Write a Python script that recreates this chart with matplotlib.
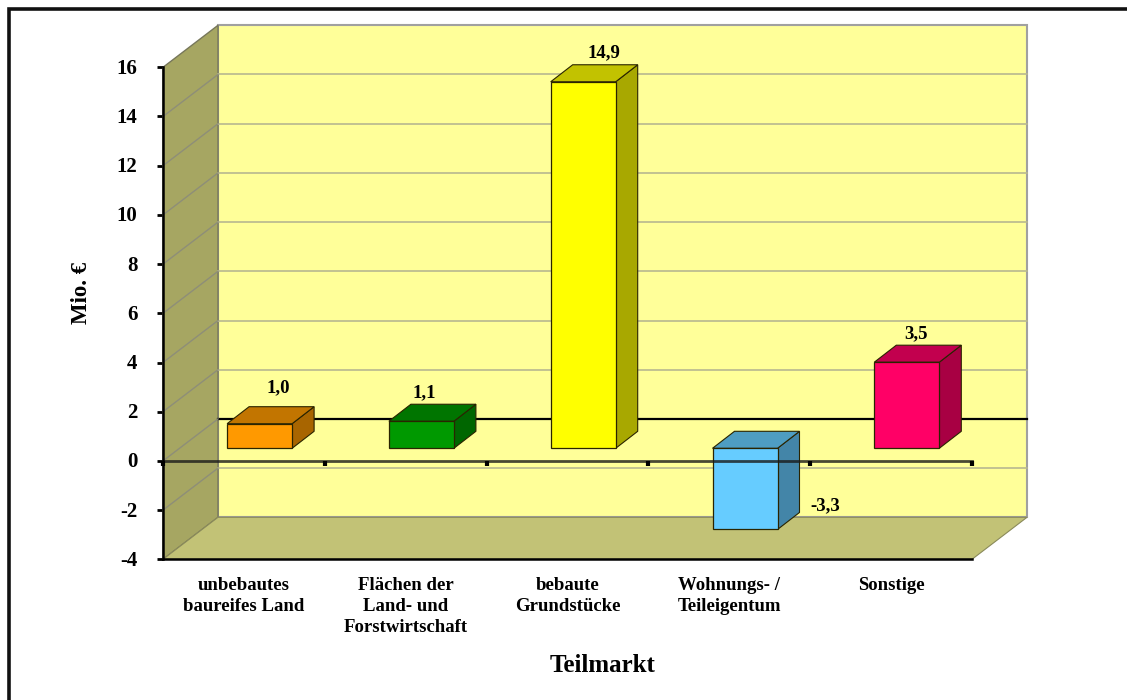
import matplotlib
matplotlib.use("Agg")
import matplotlib.pyplot as plt
from matplotlib.patches import Rectangle
from matplotlib.transforms import ScaledTranslation

plt.rcParams['font.family'] = ['Liberation Serif', 'DejaVu Serif']
plt.rcParams['font.weight'] = 'bold'

categories = ["unbebautes\nbaureifes Land", "Flächen der\nLand- und\nForstwirtschaft",
              "bebaute\nGrundstücke", "Wohnungs- /\nTeileigentum", "Sonstige"]
values = [1.0, 1.1, 14.9, -3.3, 3.5]
value_labels = ["1,0", "1,1", "14,9", "-3,3", "3,5"]
y_ticks = [-4, -2, 0, 2, 4, 6, 8, 10, 12, 14, 16]

front_colors = ["#FF9900", "#009900", "#FFFF00", "#66CCFF", "#FF0066"]
side_colors = ["#A86500", "#006600", "#A8A800", "#4385A8", "#A80043"]
top_colors = ["#C27500", "#007500", "#C2C200", "#4E9DC2", "#C2004E"]

W, H = 1127, 700
fig = plt.figure(figsize=(W / 100, H / 100), dpi=100, facecolor="white")
ax = fig.add_axes([163 / W, (H - 559.3) / H, 809 / W, 492 / H])
ax.patch.set_visible(False)

# pixels per unit on the front plane
px_x = 809 / 5
px_y = 492 / 20

# depth of the box and of the bars
wall_dx = 55 / px_x
wall_dy = 42 / px_y
bar_w = 65 / px_x
bar_dx = 22 / px_x
bar_dy = 17 / px_y
off_x = 15.7 / px_x
off_y = 12.6 / px_y

x_end = len(values)
y_lo, y_hi = y_ticks[0], y_ticks[-1]

# back wall, left wall, floor
ax.fill([wall_dx, x_end + wall_dx, x_end + wall_dx, wall_dx],
        [y_lo + wall_dy, y_lo + wall_dy, y_hi + wall_dy, y_hi + wall_dy],
        facecolor="#FFFF99", edgecolor="#A0A0A0", lw=1.5, clip_on=False, zorder=1)
ax.fill([0, wall_dx, wall_dx, 0],
        [y_lo, y_lo + wall_dy, y_hi + wall_dy, y_hi],
        facecolor="#A6A662", edgecolor="#77775A", lw=1, clip_on=False, zorder=2)
ax.fill([0, wall_dx, x_end + wall_dx, x_end],
        [y_lo, y_lo + wall_dy, y_lo + wall_dy, y_lo],
        facecolor="#C2C276", edgecolor="#8A8A5A", lw=0.8, clip_on=False, zorder=2)

for t in y_ticks[1:-1]:
    col = "black" if t == 0 else "#B8B890"
    lw = 1.6 if t == 0 else 1.2
    ax.plot([wall_dx, x_end + wall_dx], [t + wall_dy, t + wall_dy], color=col, lw=lw,
            clip_on=False, zorder=3)
    ax.plot([0, wall_dx], [t, t + wall_dy], color="#8E8E78", lw=1, clip_on=False, zorder=3)

# bars, front face first through ax.bar then the two receding faces
edge = "#2A2400"
for i, v in enumerate(values):
    left = i + 0.5 + off_x - bar_w / 2
    right = left + bar_w
    base = off_y
    top = v + off_y
    hi = max(base, top)
    lo = min(base, top)
    ax.fill([right, right + bar_dx, right + bar_dx, right],
            [lo, lo + bar_dy, hi + bar_dy, hi],
            facecolor=side_colors[i], edgecolor=edge, lw=0.8, clip_on=False, zorder=4)
    ax.fill([left, left + bar_dx, right + bar_dx, right],
            [hi, hi + bar_dy, hi + bar_dy, hi],
            facecolor=top_colors[i], edgecolor=edge, lw=0.8, clip_on=False, zorder=4)
    ax.bar(i + 0.5 + off_x, v, bar_w, bottom=off_y, color=front_colors[i],
           edgecolor=edge, lw=0.9, clip_on=False, zorder=5)

# zero axis on the front plane, shows through the blue bar
ax.plot([0, x_end], [0, 0], color="#1A1A1A", lw=2, alpha=0.8, clip_on=False, zorder=6)
ax.vlines(range(x_end + 1), -0.22, 0, color="black", lw=3, clip_on=False, zorder=6)

# value labels, pixel offsets from the front top of each bar
label_off = [(19, 36), (3, 29), (21, 29), (80, 24), (9, 28)]
for i, v in enumerate(values):
    ox, oy = label_off[i]
    ax.annotate(value_labels[i], (i + 0.5 + off_x, v + off_y), xytext=(ox * 0.72, oy * 0.72),
                textcoords="offset points", ha="center", va="center", fontsize=13.5,
                fontweight="bold", annotation_clip=False, zorder=7)

ax.set_xlim(0, x_end)
ax.set_ylim(y_lo, y_hi)
ax.set_yticks(y_ticks)
ax.set_yticklabels([str(t) for t in y_ticks], fontsize=15, fontweight="bold")
ax.tick_params(axis="y", length=4.5, width=2, pad=14)
# labels sit a pixel above their ticks in the original
for lab in ax.get_yticklabels():
    lab.set_transform(lab.get_transform() + ScaledTranslation(0, 1 / 100, fig.dpi_scale_trans))
ax.set_xticks([i + 0.5 for i in range(x_end)])
ax.set_xticklabels(categories, fontsize=13.5, fontweight="bold", linespacing=1.32)
ax.tick_params(axis="x", length=0, pad=12.5)

for s in ["top", "right"]:
    ax.spines[s].set_visible(False)
for s in ["left", "bottom"]:
    ax.spines[s].set_linewidth(1.8)
    ax.spines[s].set_zorder(6)

fig.text(603 / W, 1 - 666 / H, "Teilmarkt", fontsize=18, fontweight="bold",
         ha="center", va="center")
fig.text(81 / W, 1 - 293 / H, "Mio. €", fontsize=16.5, fontweight="bold", rotation=90,
         ha="center", va="center")

# outer frame of the picture
fig.add_artist(Rectangle((9 / W, -0.02), 1.2, 1.02 - 9 / H, transform=fig.transFigure,
                         fill=False, edgecolor="#111111", lw=2.6))

fig.savefig("out.png", dpi=100)
